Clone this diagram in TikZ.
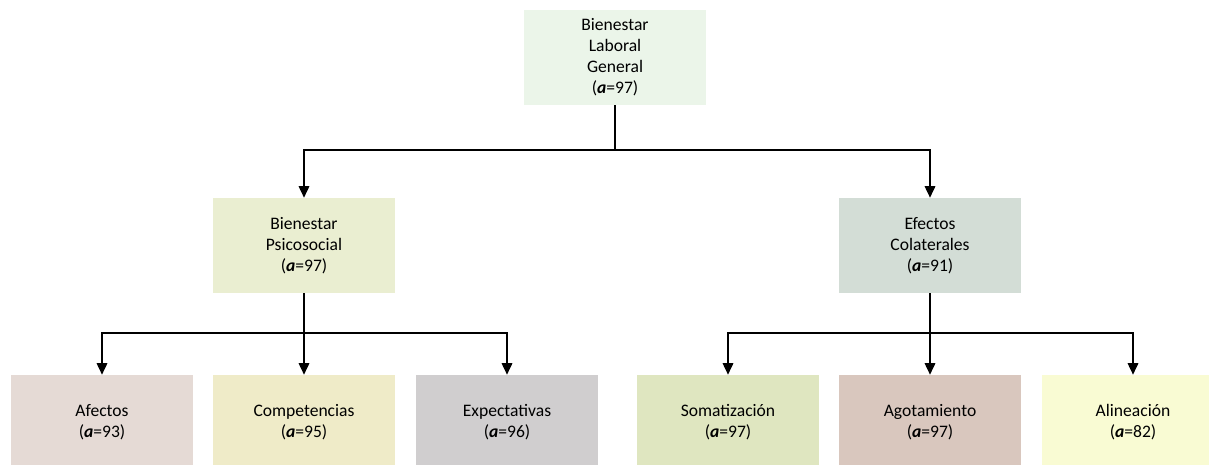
\documentclass[tikz,border=0pt]{standalone}
\usepackage{fontspec}
\setmainfont{Carlito}
\usetikzlibrary{arrows.meta}

\definecolor{cGeneral}{HTML}{EBF5E9}
\definecolor{cPsico}{HTML}{EAEED1}
\definecolor{cColat}{HTML}{D3DDD6}
\definecolor{cAfectos}{HTML}{E5DAD5}
\definecolor{cCompet}{HTML}{EFEBC8}
\definecolor{cExpect}{HTML}{D0CECF}
\definecolor{cSomat}{HTML}{DFE6C0}
\definecolor{cAgot}{HTML}{D9C7BE}
\definecolor{cAlin}{HTML}{F9FBD3}

\tikzset{
  caja/.style={minimum width=3.64cm, minimum height=1.9cm, align=center, inner sep=0pt,
    font=\fontsize{10}{11.9}\selectfont},
  linea/.style={line width=0.8pt},
  flecha/.style={linea, -{Triangle[width=6pt,length=6.5pt]}}
}
\newcommand{\alfa}{\textbf{\textit{a}}}

\begin{document}
\begin{tikzpicture}[x=0.02cm, y=-0.02cm]
\useasboundingbox (0,0) rectangle (1209,464);
\clip (0,0) rectangle (1209,464);

% nivel 1
\node[caja, fill=cGeneral] (general) at (615,57.5) {Bienestar\\Laboral\\General\\(\alfa=97)};

% nivel 2
\node[caja, fill=cPsico] (psico) at (304,245.5) {Bienestar\\Psicosocial\\(\alfa=97)};
\node[caja, fill=cColat] (colat) at (930,245.5) {Efectos\\Colaterales\\(\alfa=91)};

% nivel 3
\node[caja, fill=cAfectos] (afectos) at (102,422.5) {Afectos\\(\alfa=93)};
\node[caja, fill=cCompet] (compet) at (304,422.5) {Competencias\\(\alfa=95)};
\node[caja, fill=cExpect] (expect) at (507,422.5) {Expectativas\\(\alfa=96)};
\node[caja, fill=cSomat] (somat) at (728,422.5) {Somatización\\(\alfa=97)};
\node[caja, fill=cAgot] (agot) at (930,422.5) {Agotamiento\\(\alfa=97)};
\node[caja, fill=cAlin] (alin) at (1133,422.5) {Alineación\\(\alfa=82)};

% conectores
\coordinate (ramaA) at (615,150);
\coordinate (ramaB) at (304,333);
\coordinate (ramaC) at (930,333);

\draw[linea] (general.south) -- (ramaA);
\draw[flecha] (ramaA) -| (psico.north);
\draw[flecha] (ramaA) -| (colat.north);

\draw[linea] (psico.south) -- (ramaB);
\draw[flecha] (ramaB) -| (afectos.north);
\draw[flecha] (ramaB) -- (compet.north);
\draw[flecha] (ramaB) -| (expect.north);

\draw[linea] (colat.south) -- (ramaC);
\draw[flecha] (ramaC) -| (somat.north);
\draw[flecha] (ramaC) -- (agot.north);
\draw[flecha] (ramaC) -| (alin.north);

\end{tikzpicture}
\end{document}
